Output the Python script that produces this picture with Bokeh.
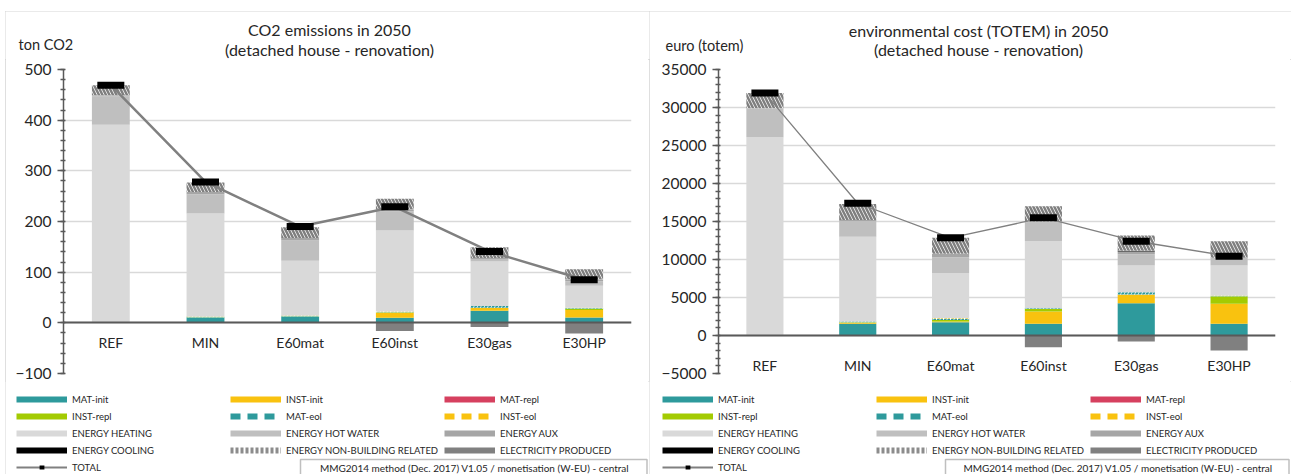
import math
from bokeh.plotting import figure
from bokeh.models import (FactorRange, Range1d, SingleIntervalTicker, Label, Legend,
                          LegendItem, ColumnDataSource)
from bokeh.layouts import row, column
from bokeh.embed import file_html
from bokeh.resources import INLINE

categories = ["REF", "MIN", "E60mat", "E60inst", "E30gas", "E30HP"]

series_names = ["MAT-init", "INST-init", "MAT-repl", "INST-repl", "MAT-eol", "INST-eol",
                "ENERGY HEATING", "ENERGY HOT WATER", "ENERGY AUX", "ENERGY COOLING",
                "ENERGY NON-BUILDING RELATED"]

# CO2 emissions (ton CO2)
co2_mat_init = [0, 10.5, 12.5, 10, 24, 10.5]
co2_inst_init = [0, 0, 0, 10, 6, 15]
co2_mat_repl = [0, 0, 0, 0, 0, 0]
co2_inst_repl = [0, 0.5, 0.5, 1, 0, 3]
co2_mat_eol = [0, 1, 1, 1, 3, 1]
co2_inst_eol = [0, 0.5, 0.5, 0.5, 0, 0.5]
co2_heating = [391, 203.5, 108, 159.5, 88, 43]
co2_hot_water = [56, 38, 40, 38, 5, 9]
co2_aux = [2, 4, 5, 4, 2, 4]
co2_cooling = [0, 0, 0, 0, 0, 0]
co2_non_building = [20, 19, 21, 21, 21, 20]
co2_elec_produced = [0, 0, 0, -16, -8, -21]
co2_total = [469, 278, 190, 229, 141, 85]

# environmental cost (euro, totem)
eur_mat_init = [0, 1540, 1750, 1540, 4250, 1540]
eur_inst_init = [0, 150, 100, 1620, 1150, 2630]
eur_mat_repl = [0, 0, 0, 0, 0, 0]
eur_inst_repl = [0, 50, 200, 340, 0, 1000]
eur_mat_eol = [0, 100, 200, 100, 300, 60]
eur_inst_eol = [0, 0, 50, 0, 0, 30]
eur_heating = [26100, 11160, 5900, 8800, 3500, 3940]
eur_hot_water = [3800, 2050, 2100, 2500, 1500, 1020]
eur_aux = [0, 150, 450, 100, 350, 0]
eur_cooling = [0, 0, 0, 0, 100, 0]
eur_non_building = [2000, 2100, 2100, 2000, 2000, 2180]
eur_elec_produced = [0, 0, 0, -1540, -790, -1970]
eur_total = [31900, 17400, 12850, 15500, 12400, 10430]

FOOTER = "MMG2014 method (Dec. 2017) V1.05 / monetisation  (W-EU) - central"

FONT = "Lato"
TXT = "#262626"
TEAL = "#2E9A9C"
YELLOW = "#F9C20F"
CRIMSON = "#D6405F"
GREEN = "#A3CB02"
fills = [TEAL, YELLOW, CRIMSON, GREEN, "white", "white", "#D9D9D9", "#BFBFBF",
         "#A6A6A6", "#000000", "white"]
hatches = [None, None, None, None, "/", "/", None, None, None, None, "\\"]
hatch_cols = ["black", "black", "black", "black", TEAL, YELLOW, "black", "black",
              "black", "black", "#7F7F7F"]

HEAD_H = 48
CHART_H = 322
LEG_H = 93
NAN = [math.nan]


def blank_fig(width, height):
    p = figure(width=width, height=height, x_range=Range1d(0, width),
               y_range=Range1d(height, 0), x_axis_type=None, y_axis_type=None,
               output_backend="svg", toolbar_location=None, min_border=0,
               frame_align=False)
    p.outline_line_color = None
    p.background_fill_color = "white"
    p.border_fill_color = "white"
    return p


def make_panel(stack_vals, elec, total, y0, y1, step, ylabel, title1, title2,
               width, border_left, border_right, line_w, x_standoff, geo):
    title_x, t1_y, t2_y, ylab_x, ylab_y, leg_x, box_l, box_r = geo

    # ---- header (titles + y unit)
    h = blank_fig(width, HEAD_H)
    for txt, yy in ((title1, t1_y), (title2, t2_y)):
        h.add_layout(Label(x=title_x, y=yy, text=txt, text_align="center",
                           text_baseline="middle", text_font=FONT,
                           text_font_size="16px", text_color=TXT))
    h.add_layout(Label(x=ylab_x, y=ylab_y, text=ylabel, text_align="left",
                       text_baseline="middle", text_font=FONT,
                       text_font_size="14.5px", text_color=TXT))

    # ---- chart
    data = {"cat": categories, "elec": elec, "total": total}
    for n, v in zip(series_names, stack_vals):
        data[n] = v
    src = ColumnDataSource(data)

    p = figure(x_range=FactorRange(*categories), y_range=Range1d(y0, y1),
               width=width, height=CHART_H, output_backend="svg", toolbar_location=None,
               min_border_left=border_left, min_border_right=border_right,
               min_border_top=10, min_border_bottom=8, frame_align=False)
    p.outline_line_color = None
    p.background_fill_color = "white"
    p.border_fill_color = "white"

    ticker = SingleIntervalTicker(interval=step, num_minor_ticks=5)
    p.yaxis.ticker = ticker
    p.ygrid.ticker = ticker
    p.xgrid.visible = False
    p.ygrid.grid_line_color = "#D9D9D9"
    p.ygrid.grid_line_width = 1.5

    ya = p.yaxis[0]
    ya.axis_line_color = "#595959"
    ya.axis_line_width = 1.5
    ya.major_tick_line_color = "#595959"
    ya.major_tick_line_width = 1.5
    ya.major_tick_out = 6
    ya.major_tick_in = 1
    ya.minor_tick_line_color = "#595959"
    ya.minor_tick_line_width = 1.5
    ya.minor_tick_out = 3
    ya.minor_tick_in = 2
    ya.major_label_text_font = FONT
    ya.major_label_text_font_size = "15.5px"
    ya.major_label_text_color = TXT
    ya.major_label_standoff = 6

    xa = p.xaxis[0]
    xa.fixed_location = 0
    xa.axis_line_color = "#595959"
    xa.axis_line_width = 2
    xa.major_tick_in = 0
    xa.major_tick_out = 0
    xa.minor_tick_line_color = None
    xa.major_label_text_font = FONT
    xa.major_label_text_font_size = "14px"
    xa.major_label_text_color = TXT
    xa.major_label_standoff = x_standoff

    p.vbar_stack(series_names, x="cat", width=0.4, source=src,
                 fill_color=fills, line_color=None,
                 hatch_pattern=hatches, hatch_color=hatch_cols,
                 hatch_scale=7, hatch_weight=2.5)
    p.vbar_stack(["elec"], x="cat", width=0.4, source=src,
                 fill_color="#808080", line_color=None)

    p.line(x="cat", y="total", source=src, line_color="#808080", line_width=line_w)
    p.rect(x="cat", y="total", width=27, height=7, width_units="screen",
           height_units="screen", source=src, fill_color="black", line_color=None)

    # ---- legend + footer
    lg = blank_fig(width, LEG_H)

    def sw(color, dash="solid", lw=6):
        return lg.line(x=NAN, y=NAN, line_color=color, line_width=lw, line_dash=dash)

    items = [
        LegendItem(label="MAT-init", renderers=[sw(TEAL)]),
        LegendItem(label="INST-init", renderers=[sw(YELLOW)]),
        LegendItem(label="MAT-repl", renderers=[sw(CRIMSON)]),
        LegendItem(label="INST-repl", renderers=[sw(GREEN)]),
        LegendItem(label="MAT-eol", renderers=[sw(TEAL, "10 7")]),
        LegendItem(label="INST-eol", renderers=[sw(YELLOW, "10 7")]),
        LegendItem(label="ENERGY HEATING", renderers=[sw("#D9D9D9")]),
        LegendItem(label="ENERGY HOT WATER", renderers=[sw("#BFBFBF")]),
        LegendItem(label="ENERGY AUX", renderers=[sw("#A6A6A6")]),
        LegendItem(label="ENERGY COOLING", renderers=[sw("#000000")]),
        LegendItem(label="ENERGY NON-BUILDING RELATED", renderers=[sw("#8C8C8C", "3 2")]),
        LegendItem(label="ELECTRICITY PRODUCED", renderers=[sw("#808080")]),
        LegendItem(label="TOTAL", renderers=[
            sw("#808080", "solid", 2),
            lg.scatter(x=NAN, y=NAN, marker="dash", size=9, line_color="black",
                       line_width=4)]),
    ]
    leg = Legend(items=items, orientation="horizontal", ncols=3,
                 location=(leg_x, 1),
                 glyph_width=51, glyph_height=12, label_height=12, label_width=153,
                 label_standoff=5, spacing=5, padding=0, margin=0,
                 border_line_color=None, background_fill_alpha=0,
                 label_text_font=FONT, label_text_font_size="9.5px",
                 label_text_color=TXT)
    lg.add_layout(leg, "center")

    lg.quad(left=[box_l], right=[box_r], top=[78], bottom=[LEG_H + 10],
            fill_color="white", line_color="#BFBFBF", line_width=1.5)
    lg.add_layout(Label(x=(box_l + box_r) / 2 + 2, y=86, text=FOOTER,
                        text_align="center", text_baseline="middle",
                        text_font=FONT, text_font_size="10px", text_color=TXT))

    return column(h, p, lg, spacing=0,
                  styles={"outline": "1px solid #D4D4D4", "outline-offset": "-1px"})


co2_stack = [co2_mat_init, co2_inst_init, co2_mat_repl, co2_inst_repl, co2_mat_eol,
             co2_inst_eol, co2_heating, co2_hot_water, co2_aux, co2_cooling,
             co2_non_building]
eur_stack = [eur_mat_init, eur_inst_init, eur_mat_repl, eur_inst_repl, eur_mat_eol,
             eur_inst_eol, eur_heating, eur_hot_water, eur_aux, eur_cooling,
             eur_non_building]

c1 = make_panel(co2_stack, co2_elec_produced, co2_total, -100, 500, 100, "ton CO2",
                "CO2 emissions in 2050", "(detached house - renovation)",
                644, 58, 18, 2.5, 11, (324, 18, 37.5, 13, 33, 11, 295, 641.5))
c2 = make_panel(eur_stack, eur_elec_produced, eur_total, -5000, 35000, 5000,
                "euro (totem)", "environmental cost (TOTEM) in 2050",
                "(detached house - renovation)",
                642, 69, 16, 1.3, 21, (329, 18.5, 37.5, 16, 34, 13, 296, 639.5))

layout = row(c1, c2, spacing=0, margin=(11, 0, 0, 5))
open("out.html", "w").write(file_html(layout, INLINE))
